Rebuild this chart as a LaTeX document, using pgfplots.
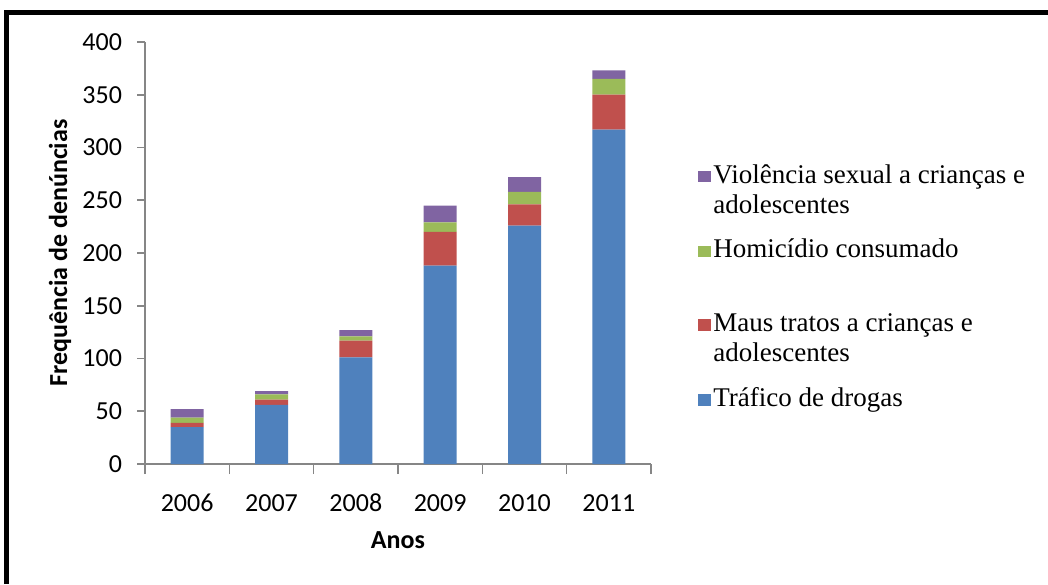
\documentclass[border=0pt]{standalone}
\usepackage{fontspec}
\setmainfont{Carlito}
\newfontfamily\lserif{Liberation Serif}
\usepackage{pgfplots}
\pgfplotsset{compat=1.18}

\definecolor{cblue}{HTML}{4F81BD}
\definecolor{cred}{HTML}{C0504D}
\definecolor{cgreen}{HTML}{9BBB59}
\definecolor{cpurple}{HTML}{8064A2}
\definecolor{axgray}{HTML}{868686}

\begin{document}
\begin{tikzpicture}
\useasboundingbox (0,0) rectangle (524pt,292pt);
% frame (left and top edges only, as in the source image)
\draw[line width=2.5pt] (3pt,0) -- (3pt,285.5pt) -- (524pt,285.5pt);

\begin{axis}[
  at={(72.5pt,60pt)}, anchor=south west,
  scale only axis,
  width=253pt, height=211pt,
  ybar stacked,
  bar width=16.5pt,
  xmin=-0.5, xmax=5.5,
  ymin=0, ymax=400,
  ytick={0,50,...,400},
  xtick={0,...,5},
  xticklabels={2006,2007,2008,2009,2010,2011},
  minor xtick={-0.5,0.5,...,5.5},
  major x tick style={draw=none},
  minor x tick style={draw=axgray, line width=0.8pt},
  minor tick length=5pt,
  major tick length=4pt,
  tick align=outside,
  y tick style={draw=axgray, line width=0.8pt},
  axis x line*=bottom, axis y line*=left,
  axis line style={draw=axgray, line width=0.8pt, -},
  /pgf/number format/assume math mode=true,
  tick label style={font=\fontsize{13}{15}\selectfont},
  xticklabel style={yshift=-7.5pt, text height=8.5pt, text depth=0pt},
  yticklabel style={xshift=-4pt},
  label style={font=\bfseries\fontsize{13}{15}\selectfont},
  xlabel={Anos},
  ylabel={Frequência de denúncias},
  xlabel style={at={(axis description cs:0.5,-0.18)}, anchor=center},
  ylabel style={at={(axis description cs:-0.168,0.5)}, anchor=center, rotate=0},
  reverse legend,
  legend cell align=left,
  legend style={at={(axis description cs:1,1)}, anchor=north west,
    xshift=20.5pt, yshift=-58pt, draw=none, fill=none,
    font=\lserif\fontsize{13.5}{15}\selectfont, row sep=9.5pt,
    nodes={align=left, inner sep=1pt},
    cells={anchor=base west}},
]
\addplot[fill=cblue, draw=none,
  legend image code/.code={\fill[cblue] (0pt,0.6pt) rectangle (6.5pt,6.2pt);}]
  coordinates {(0,35) (1,56) (2,101) (3,188) (4,226) (5,317)};
\addlegendentry{Tráfico de drogas}
\addplot[fill=cred, draw=none,
  legend image code/.code={\fill[cred] (0pt,15.6pt) rectangle (6.5pt,21.2pt);}]
  coordinates {(0,4) (1,5) (2,16) (3,32) (4,20) (5,33)};
\addlegendentry{Maus tratos a crianças e\\adolescentes}
\addplot[fill=cgreen, draw=none,
  legend image code/.code={\fill[cgreen] (0pt,15.6pt) rectangle (6.5pt,21.2pt);}]
  coordinates {(0,5) (1,5) (2,4) (3,9) (4,12) (5,15)};
\addlegendentry{Homicídio consumado\\\mbox{}}
\addplot[fill=cpurple, draw=none,
  legend image code/.code={\fill[cpurple] (0pt,15.6pt) rectangle (6.5pt,21.2pt);}]
  coordinates {(0,8) (1,3) (2,6) (3,16) (4,14) (5,8)};
\addlegendentry{Violência sexual a crianças e\\adolescentes}
\end{axis}
\end{tikzpicture}
\end{document}
